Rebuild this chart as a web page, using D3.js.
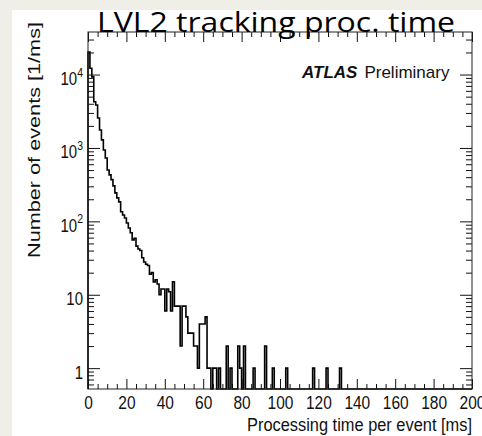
<!DOCTYPE html>
<html>
<head>
<meta charset="utf-8">
<script src="https://cdn.jsdelivr.net/npm/d3@7"></script>
<style>
  html, body { margin: 0; padding: 0; background: #efeee7; }
  svg { display: block; }
</style>
</head>
<body>
<svg id="chart" width="482" height="436"></svg>
<script>
// Processing time histogram, 1 ms bins from 0 to 200 ms
const binEdges = [0, 200];
const binWidth = 1;
const counts = [
  20200, 12200, 9300, 4260, 3850, 2560, 1760, 1290, 940, 730,
  500, 430, 370, 304, 244, 209, 184, 135, 122, 111,
  95, 81, 70, 56, 59, 46, 42, 40, 32, 28,
  26, 25, 19, 20, 15, 16, 14, 10, 12, 12,
  6, 12, 11, 6, 15, 7, 7, 7, 2, 7,
  7, 5, 3, 3, 3, 2, 2, 1, 4, 4,
  4, 5, 1, 1, 0, 1, 1, 0, 1, 0,
  0, 0, 2, 0, 1, 0, 0, 0, 2, 1,
  0, 2, 0, 0, 0, 0, 1, 0, 0, 0,
  0, 0, 2, 0, 0, 0, 1, 0, 0, 0,
  0, 0, 0, 1, 0, 0, 0, 0, 0, 0,
  0, 0, 0, 0, 0, 0, 0, 1, 0, 0,
  0, 0, 0, 0, 1, 0, 0, 0, 0, 0,
  0, 1, 0, 0, 0, 0, 0, 0, 0, 0,
  0, 0, 0, 0, 0, 0, 0, 0, 0, 0,
  0, 0, 0, 0, 0, 0, 0, 0, 0, 0,
  0, 0, 0, 0, 0, 0, 0, 0, 0, 0,
  0, 0, 0, 0, 0, 0, 0, 0, 0, 0,
  0, 0, 0, 0, 0, 0, 0, 0, 0, 0,
  0, 0, 0, 0, 0, 0, 0, 0, 0, 0
];
const xTickValues = [0, 20, 40, 60, 80, 100, 120, 140, 160, 180, 200];
const yTickValues = [1, 10, 100, 1000, 10000];
const yDomain = [0.52, 38000];

const titleText = "LVL2 tracking proc. time";
const xTitle = "Processing time per event [ms]";
const yTitle = "Number of events [1/ms]";

const svg = d3.select("#chart");
const W = 482, H = 436;

// white page area
svg.append("rect").attr("x", 12).attr("y", 10).attr("width", W - 12).attr("height", H - 10).attr("fill", "#ffffff");

const frame = { left: 88, right: 472, top: 32, bottom: 389 };
const x = d3.scaleLinear().domain(binEdges).range([frame.left, frame.right]);
const y = d3.scaleLog().domain(yDomain).range([frame.bottom, frame.top]);

const font = "'Liberation Sans', Arial, Helvetica, sans-serif";

// minor tick values
const xMinor = d3.range(0, 201, 5).filter(v => v % 20 !== 0);
const yMinor = [];
for (let e = -1; e <= 4; e++) {
  for (let m = 2; m <= 9; m++) {
    const v = m * Math.pow(10, e);
    if (v > yDomain[0] && v < yDomain[1]) yMinor.push(v);
  }
}

function styleAxis(g) {
  g.select(".domain").remove();
  g.selectAll(".tick line").attr("stroke", "#111").attr("stroke-width", 1);
}

// bottom axis with labels
const gx = svg.append("g").attr("transform", `translate(0,${frame.bottom})`)
  .call(d3.axisBottom(x).tickValues(xTickValues).tickSize(-10).tickPadding(0).tickFormat(d3.format("d")));
styleAxis(gx);
gx.selectAll(".tick text")
  .attr("y", null).attr("dy", null)
  .attr("transform", "translate(0,20) scale(1,1.2)")
  .attr("font-family", font).attr("font-size", 15.5).attr("fill", "#111");
svg.append("g").attr("transform", `translate(0,${frame.bottom})`)
  .call(d3.axisBottom(x).tickValues(xMinor).tickSize(-5).tickFormat(""))
  .call(styleAxis);

// top axis, ticks only
svg.append("g").attr("transform", `translate(0,${frame.top})`)
  .call(d3.axisTop(x).tickValues(xTickValues).tickSize(-10).tickFormat(""))
  .call(styleAxis);
svg.append("g").attr("transform", `translate(0,${frame.top})`)
  .call(d3.axisTop(x).tickValues(xMinor).tickSize(-5).tickFormat(""))
  .call(styleAxis);

// left axis with power-of-ten labels
const gy = svg.append("g").attr("transform", `translate(${frame.left},0)`)
  .call(d3.axisLeft(y).tickValues(yTickValues).tickSize(-12).tickPadding(0).tickFormat(() => ""));
styleAxis(gy);
gy.selectAll(".tick text").each(function(d) {
  const t = d3.select(this);
  t.attr("x", null).attr("dy", null).attr("text-anchor", "end")
    .attr("font-family", font).attr("font-size", 15).attr("fill", "#111");
  const exp = Math.round(Math.log10(d));
  if (exp <= 1) {
    t.attr("transform", "translate(-5,10) scale(1,1.2)").text(String(d));
  } else {
    t.attr("transform", "translate(-5,10) scale(1,1.2)");
    t.append("tspan").text("10");
    t.append("tspan").attr("font-size", 10.5).attr("dy", -7).text(String(exp));
  }
});
svg.append("g").attr("transform", `translate(${frame.left},0)`)
  .call(d3.axisLeft(y).tickValues(yMinor).tickSize(-6).tickFormat(""))
  .call(styleAxis);

// right axis, ticks only
svg.append("g").attr("transform", `translate(${frame.right},0)`)
  .call(d3.axisRight(y).tickValues(yTickValues).tickSize(-12).tickFormat(""))
  .call(styleAxis);
svg.append("g").attr("transform", `translate(${frame.right},0)`)
  .call(d3.axisRight(y).tickValues(yMinor).tickSize(-6).tickFormat(""))
  .call(styleAxis);

// histogram outline
const pts = [[x(binEdges[0]), frame.bottom]];
counts.forEach((c, i) => {
  const x0 = x(binEdges[0] + i * binWidth), x1 = x(binEdges[0] + (i + 1) * binWidth);
  const yy = c > 0 ? Math.max(frame.top, y(c)) : frame.bottom;
  pts.push([x0, yy], [x1, yy]);
});
pts.push([x(binEdges[1]), frame.bottom]);
svg.append("path")
  .attr("d", d3.line()(pts))
  .attr("fill", "none").attr("stroke", "#000").attr("stroke-width", 1.6)
  .attr("stroke-linejoin", "miter");

// frame
svg.append("rect")
  .attr("x", frame.left).attr("y", frame.top)
  .attr("width", frame.right - frame.left).attr("height", frame.bottom - frame.top)
  .attr("fill", "none").attr("stroke", "#222").attr("stroke-width", 1);

// axis titles
svg.append("text")
  .attr("x", frame.right).attr("y", 0)
  .attr("transform", "translate(0,431) scale(1,1.15)")
  .attr("text-anchor", "end")
  .attr("font-family", font).attr("font-size", 15.5).attr("fill", "#111")
  .attr("textLength", 225).attr("lengthAdjust", "spacingAndGlyphs")
  .text(xTitle);

svg.append("text")
  .attr("transform", "translate(40,140) rotate(-90)")
  .attr("text-anchor", "middle")
  .attr("font-family", font).attr("font-size", 16.5).attr("fill", "#111")
  .attr("textLength", 236).attr("lengthAdjust", "spacingAndGlyphs")
  .text(yTitle);

// ATLAS label
const atlas = svg.append("text").attr("x", 302).attr("y", 78)
  .attr("font-family", font).attr("font-size", 17).attr("fill", "#111");
atlas.append("tspan").attr("font-weight", "bold").attr("font-style", "italic").text("ATLAS");
atlas.append("tspan").attr("dx", 7).text("Preliminary");

// slide title
svg.append("text")
  .attr("x", 97).attr("y", 31.5)
  .attr("font-family", "'Open Sans', 'Noto Sans', sans-serif").attr("font-size", 27).attr("fill", "#000")
  .attr("textLength", 358).attr("lengthAdjust", "spacingAndGlyphs")
  .text(titleText);
</script>
</body>
</html>
